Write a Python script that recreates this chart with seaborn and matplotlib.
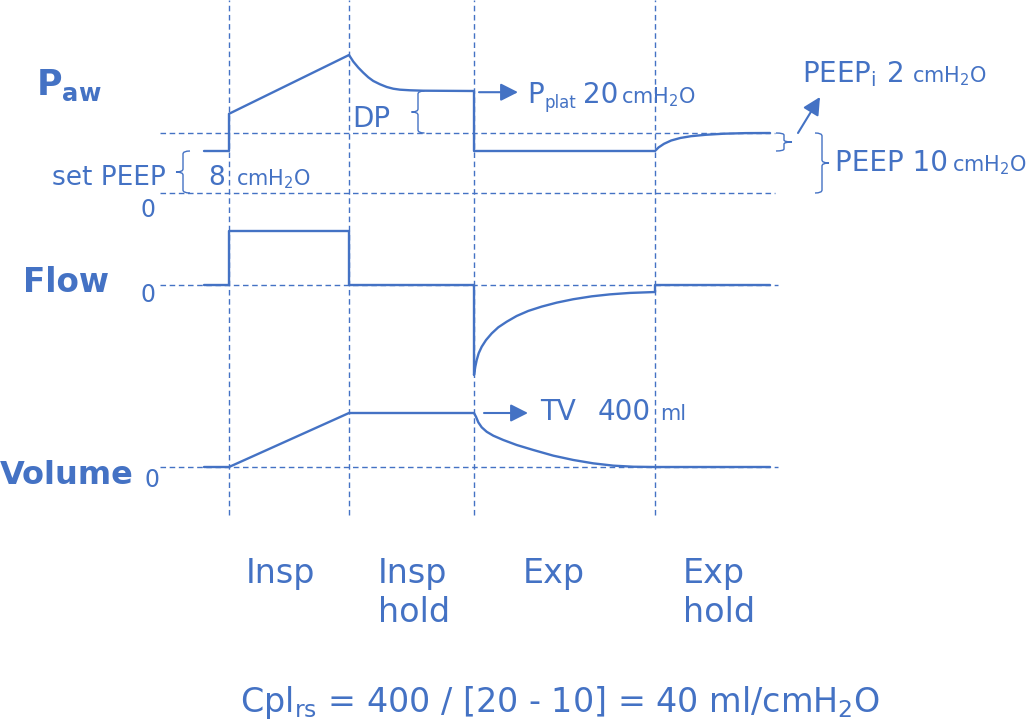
import numpy as np
import pandas as pd
import matplotlib
matplotlib.use("Agg")
import matplotlib.pyplot as plt
import seaborn as sns
from matplotlib.path import Path
from matplotlib.patches import PathPatch

# ---------------- data ----------------
phase_labels = ["Insp", "Insp\nhold", "Exp", "Exp\nhold"]
phase_bounds = [0.0, 1.2, 2.45, 4.26]          # s, start of each phase

# airway pressure (cmH2O, schematic)
paw_t = [-0.25, 0.0, 0.0, 1.2, 1.243, 1.293, 1.343, 1.393, 1.443, 1.51, 1.577,
         1.643, 1.71, 1.81, 1.943, 2.45, 2.45,
         4.26, 4.296, 4.35, 4.422, 4.513, 4.621, 4.765, 4.946, 5.163, 5.41]
paw_v = [7.0, 7.0, 13.2, 23.0, 21.9, 20.9, 20.05, 19.28, 18.67, 18.12, 17.67,
         17.38, 17.22, 17.12, 17.05, 17.0, 7.0,
         7.0, 7.6, 8.2, 8.75, 9.17, 9.47, 9.7, 9.88, 9.98, 10.0]

# flow (L/min, schematic)
flow_t = [-0.25, 0.0, 0.0, 1.2, 1.2, 2.45, 2.45, 2.463, 2.477, 2.497, 2.527,
          2.57, 2.627, 2.693, 2.777, 2.877, 2.993, 3.127, 3.277, 3.443, 3.627,
          3.81, 4.01, 4.26, 4.26, 5.41]
flow_v = [0, 0, 30, 30, 0, 0, -50, -45.4, -41.7, -37.9, -34.3,
          -30.6, -26.9, -23.5, -20.4, -17.2, -14.4, -12.0, -9.8, -7.9, -6.3,
          -5.2, -4.4, -3.9, 0, 0]

# volume (ml)
vol_t = [-0.25, 0.0, 1.2, 2.45, 2.47, 2.493, 2.527, 2.577, 2.643, 2.743, 2.877,
         3.043, 3.243, 3.443, 3.643, 3.843, 4.043, 4.26, 5.41]
vol_v = [0, 0, 400, 400, 372, 331, 294, 261, 232, 200, 163,
         126, 84, 52, 27, 10, 2, 0, 0]

peep_total = 10
peep_set_level = 7
plateau = 17
tidal_volume = 400

BLUE = "#4472C4"
W, H = 1028, 722

sns.set_theme(style="white")
plt.rcParams["font.family"] = ["DejaVu Sans"]
plt.rcParams["mathtext.default"] = "regular"
plt.rcParams["mathtext.fontset"] = "dejavusans"

fig = plt.figure(figsize=(W / 100, H / 100), dpi=100)
fig.patch.set_facecolor("white")

XLIM = (-2.29, 7.99)

def make_ax(ylim):
    ax = fig.add_axes([0, 0, 1, 1])
    ax.set_axis_off()
    ax.patch.set_alpha(0)
    ax.set_xlim(*XLIM)
    ax.set_ylim(*ylim)
    return ax

ylim_p = ((193 - H) / 6.0, 193 / 6.0)
ylim_f = ((285 - H) / 1.8, 285 / 1.8)
ylim_v = ((467 - H) / 0.135, 467 / 0.135)
ax_p = make_ax(ylim_p)
ax_f = make_ax(ylim_f)
ax_v = make_ax(ylim_v)

dash = dict(color=BLUE, lw=1.0, ls=(0, (4, 2.6)))

# vertical phase lines
for t in phase_bounds:
    ax_p.axvline(t, ymin=1 - 515 / H, ymax=1, **dash)
# horizontal reference lines
ax_p.hlines([peep_total, 0], -0.69, 5.46, **dash)
ax_f.hlines(0, -0.69, 5.49, **dash)
ax_v.hlines(0, -0.69, 5.49, **dash)

# traces
for ax, t, v in [(ax_p, paw_t, paw_v), (ax_f, flow_t, flow_v), (ax_v, vol_t, vol_v)]:
    sns.lineplot(x=t, y=v, ax=ax, sort=False, estimator=None, color=BLUE,
                 lw=1.7, legend=False)
for ax, yl in [(ax_p, ylim_p), (ax_f, ylim_f), (ax_v, ylim_v)]:
    ax.set_xlim(*XLIM)
    ax.set_ylim(*yl)
    ax.set_axis_off()

# braces
def brace(ax, x, y0, y1, hx, ry, side):
    tip = x + side * hx
    hook = x - side * hx
    ym = (y0 + y1) / 2
    verts = [(hook, y1), (x, y1), (x, y1 - ry), (x, ym + ry), (x, ym), (tip, ym),
             (x, ym), (x, ym - ry), (x, y0 + ry), (x, y0), (hook, y0)]
    codes = [Path.MOVETO, Path.CURVE3, Path.CURVE3, Path.LINETO, Path.CURVE3, Path.CURVE3,
             Path.CURVE3, Path.CURVE3, Path.LINETO, Path.CURVE3, Path.CURVE3]
    ax.add_patch(PathPatch(Path(verts, codes), fc="none", ec=BLUE, lw=1.0, clip_on=False))

brace(ax_p, -0.46, 0, peep_set_level, 0.07, 0.5, -1)
brace(ax_p, 1.89, peep_total, plateau, 0.065, 0.5, -1)
brace(ax_p, 5.55, peep_set_level, peep_total, 0.08, 0.35, +1)
brace(ax_p, 5.93, 0, peep_total, 0.07, 0.5, +1)

# arrows
def arrow(ax, p0, p1):
    ax.annotate("", xy=p1, xytext=p0,
                arrowprops=dict(arrowstyle="-|>,head_length=0.75,head_width=0.38",
                                color=BLUE, lw=1.5, shrinkA=0, shrinkB=0,
                                mutation_scale=14))

arrow(ax_p, (2.50, 16.8), (2.89, 16.8))
arrow(ax_v, (2.55, tidal_volume), (2.99, tidal_volume))
arrow(ax_p, (5.69, 10.0), (5.91, 16.0))

# text helper in pixel coordinates (baseline)
def txt(x, y, s, size, weight="normal", ha="left", va="baseline"):
    fig.text(x / W, 1 - y / H, s, fontsize=size, color=BLUE, fontweight=weight,
             ha=ha, va=va)

CM = "cmH$_2$O"
# left titles
txt(36, 95, r"$\mathbf{P_{aw}}$", 25)
txt(23, 292, "Flow", 23.5, "bold")
txt(0, 484, "Volume", 23, "bold")
# zero labels
txt(140, 217, "0", 17)
txt(140, 302, "0", 17)
txt(145, 487, "0", 17)
# pressure annotations
txt(52, 185, "set PEEP", 19)
txt(208, 185, "8", 19)
txt(236, 185, CM, 15)
txt(352, 127, "DP", 20)
txt(527, 103, "P", 20)
txt(544, 108, "plat", 12)
txt(583, 103, "20", 20)
txt(621, 103, CM, 15)
txt(802, 82, "PEEP$_i$", 20)
txt(887, 82, "2", 20)
txt(912, 82, CM, 15)
txt(835, 171, "PEEP 10", 20)
txt(952, 171, CM, 15)
# volume annotation
txt(540, 420, "TV", 20)
txt(598, 420, "400", 20)
txt(660, 420, "ml", 15)
# phase labels
phase_x = [246, 378, 523, 683]
for x, lab in zip(phase_x, phase_labels):
    for i, line in enumerate(lab.split("\n")):
        txt(x, 583 + 39 * i, line, 24)
# formula
txt(240, 712, "Cpl$_{rs}$ = 400 / [20 - 10] = 40 ml/cmH$_2$O", 24)

fig.savefig("out.png", dpi=100, facecolor="white")
